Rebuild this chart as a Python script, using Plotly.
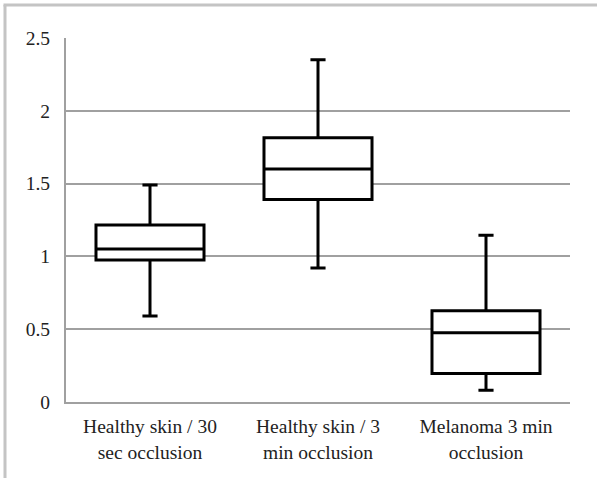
import plotly.graph_objects as go

categories = ["Healthy skin / 30<br>sec occlusion", "Healthy skin / 3<br>min occlusion", "Melanoma 3 min<br>occlusion"]
lower_whisker = [0.59, 0.92, 0.08]
q1_values = [0.975, 1.39, 0.195]
median_values = [1.05, 1.60, 0.475]
q3_values = [1.215, 1.815, 0.627]
upper_whisker = [1.49, 2.35, 1.145]
y_ticks = [0, 0.5, 1, 1.5, 2, 2.5]
y_tick_labels = ["0", "0.5", "1", "1.5", "2", "2.5"]

fig = go.Figure()
fig.add_trace(go.Box(
    x=categories,
    q1=q1_values,
    median=median_values,
    q3=q3_values,
    lowerfence=lower_whisker,
    upperfence=upper_whisker,
    fillcolor="white",
    line=dict(color="black", width=3),
    whiskerwidth=0.14,
    width=0.643,
    boxpoints=False,
    showlegend=False,
    hoverinfo="skip",
))

L, R, T, B = 66, 27, 38, 76
W, H = 597, 478
pw, ph = W - L - R, H - T - B

def px(xp):
    return (xp - L) / pw

def py(yp):
    return (H - B - yp) / ph

FONT = "Liberation Serif, DejaVu Serif, serif"
FS = 19.5

fig.update_layout(
    width=W, height=H,
    margin=dict(l=L, r=R, t=T, b=B),
    paper_bgcolor="white",
    plot_bgcolor="white",
    font=dict(family=FONT, size=FS, color="#222222"),
    xaxis=dict(
        showgrid=False, showline=True, linecolor="#a0a0a0", linewidth=2,
        ticks="", ticklabelstandoff=6, tickfont=dict(family=FONT, size=FS),
        range=[-0.5, 2.5], fixedrange=True,
    ),
    yaxis=dict(
        range=[0, 2.5], tickvals=y_ticks, ticktext=y_tick_labels,
        showgrid=True, gridcolor="#a0a0a0", gridwidth=2,
        showline=True, linecolor="#a0a0a0", linewidth=2,
        zeroline=False, ticks="", ticklabelstandoff=10, tickfont=dict(family=FONT, size=FS),
        fixedrange=True,
    ),
    shapes=[
        dict(type="line", xref="paper", yref="paper",
             x0=px(5), x1=px(5), y0=py(490), y1=py(5),
             line=dict(color="#c4c4c4", width=3)),
        dict(type="line", xref="paper", yref="paper",
             x0=px(3.5), x1=px(605), y0=py(5), y1=py(5),
             line=dict(color="#c4c4c4", width=3)),
    ],
)

fig.write_html(
    "out.html",
    config={"displayModeBar": False},
    post_script="document.body.style.margin='0';document.body.style.overflow='hidden';",
)
